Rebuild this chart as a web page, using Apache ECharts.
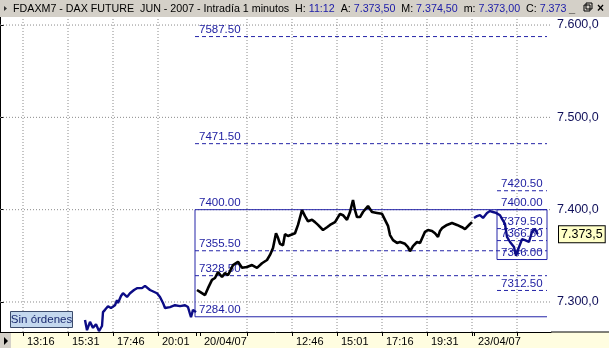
<!DOCTYPE html>
<html><head><meta charset="utf-8">
<script src="https://cdn.jsdelivr.net/npm/echarts@6/dist/echarts.min.js"></script>
<style>html,body{margin:0;padding:0;background:#fff}#c{width:609px;height:348px}</style>
</head><body><div id="c"></div>
<script>
// ---- sessions (bar index = minutes since first shown bar, sessions packed together)
const sessions = {
  d1: { date: '19/04/07', open: '12:07', startIndex: 0 },
  d2: { date: '20/04/07', open: '08:00', startIndex: 590 },
  d3: { date: '23/04/07', open: '08:00', startIndex: 1422 }
};
const xMaxIndex = 1653;

// ---- price data [time, price]
const day1 = [['16:22',7280.5],['16:28',7269.5],['16:37',7278.5],['16:46',7272],['16:55',7276],['17:04',7268.5],['17:13',7274],['17:16',7289],['17:22',7291.5],['17:31',7295.5],['17:40',7293.5],['17:52',7296.5],['17:58',7302],['18:01',7299],['18:10',7306.5],['18:16',7309.5],['18:28',7305.5],['18:37',7309.5],['18:49',7313],['18:58',7315],['19:13',7315],['19:22',7317.5],['19:28',7316],['19:37',7313],['19:43',7311],['19:58',7309.5],['20:07',7305.5],['20:16',7299],['20:22',7293.5],['20:28',7291.5],['20:37',7294.5],['20:52',7296.5],['21:07',7295.5],['21:22',7296.5],['21:31',7294.5],['21:37',7287],['21:40',7283.5],['21:46',7291.5],['21:55',7289]];
const day2 = [['08:01',7313],['08:10',7311],['08:25',7307.5],['08:34',7315],['08:46',7324],['08:55',7326],['09:04',7332.5],['09:16',7327],['09:25',7331.5],['09:34',7329],['09:49',7340],['10:04',7343.5],['10:16',7337],['10:31',7338],['10:46',7340],['11:01',7337],['11:16',7342],['11:31',7345.5],['11:40',7351],['11:49',7358.5],['11:58',7374.5],['12:04',7369.5],['12:10',7363],['12:19',7361.5],['12:25',7373.5],['12:34',7371.5],['12:40',7369.5],['12:55',7374.5],['13:04',7383.5],['13:16',7399.5],['13:25',7393],['13:34',7387.5],['13:46',7389],['13:55',7386.5],['14:04',7383.5],['14:19',7378],['14:31',7381],['14:40',7383.5],['14:55',7386.5],['15:10',7395.5],['15:19',7394],['15:31',7389],['15:40',7397.5],['15:49',7410.5],['15:55',7399.5],['16:01',7392],['16:10',7392],['16:19',7397.5],['16:34',7404],['16:46',7397.5],['17:01',7396.5],['17:16',7395.5],['17:25',7389],['17:34',7382.5],['17:40',7372.5],['17:49',7367],['18:01',7364],['18:10',7365],['18:25',7363],['18:34',7359.5],['18:40',7355],['18:49',7360.5],['19:01',7365],['19:10',7364],['19:25',7376],['19:34',7378],['19:46',7377],['19:55',7374.5],['20:04',7370.5],['20:10',7377],['20:16',7380],['20:31',7383.5],['20:46',7385.5],['21:01',7383.5],['21:16',7381],['21:25',7379],['21:31',7380],['21:40',7384.5],['21:46',7386.5]];
const day3 = [['08:00',7391],['08:09',7393],['08:18',7394],['08:27',7391],['08:39',7396.5],['08:48',7398.5],['08:57',7397.5],['09:06',7396.5],['09:12',7395.5],['09:18',7394],['09:24',7390],['09:33',7384.5],['09:39',7370.5],['09:48',7365],['10:00',7359.5],['10:06',7350],['10:15',7359.5],['10:24',7368],['10:33',7367],['10:45',7365],['10:54',7376],['11:03',7379],['11:09',7374.5],['11:12',7373.5]];

// ---- axes
const yTickValues = [7300, 7400, 7500, 7600];
const yMin = 7267.5, yMax = 7608.7;
const xTickMarks = [['d1','13:16','13:16'],['d1','15:31','15:31'],['d1','17:46','17:46'],['d1','20:01','20:01'],['d1','21:55',''],['d2','08:10','20/04/07'],['d2','10:31',''],['d2','12:46','12:46'],['d2','15:01','15:01'],['d2','17:16','17:16'],['d2','19:31','19:31'],['d2','21:46',''],['d3','08:00','23/04/07'],['d3','10:09','']];
const xGridMarks = [['d1','13:16'],['d1','15:31'],['d1','17:46'],['d1','20:01'],['d2','10:31'],['d2','12:46'],['d2','15:01'],['d2','17:16'],['d2','19:31'],['d2','21:46'],['d3','10:09']];

// ---- drawings (fibonacci tools)
const leftFib  = { start: ['d1','21:52'], end: ['d3','11:39'], high: 7400, low: 7284, levels: [7587.5, 7471.5, 7355.5, 7328.5] };
const rightFib = { start: ['d3','09:09'], end: ['d3','11:39'], high: 7400, low: 7346, levels: [7420.5, 7379.5, 7366.5, 7312.5, 7259] };
const lastPrice = 7373.5;

const header = { symbol: 'FDAXM7 - DAX FUTURE  JUN - 2007 - Intradía 1 minutos', H: '11:12', A: '7.373,50', M: '7.374,50', m: '7.373,00', C: '7.373,5' };

function toMin(t){ const [h,m]=t.split(':').map(Number); return h*60+m; }
function idx(day, t){ const s = sessions[day]; return s.startIndex + toMin(t) - toMin(s.open); }
function fmtEs(v, d){ const s = v.toFixed(d); const [i, f] = s.split('.'); return i.replace(/\B(?=(\d{3})+(?!\d))/g, '.') + (f ? ',' + f : ''); }

const tickIdx = xTickMarks.map(t => idx(t[0], t[1]));
const labelMap = {}; xTickMarks.forEach(t => { if (t[2]) labelMap[idx(t[0], t[1])] = t[2]; });
const labelIdx = Object.keys(labelMap).map(Number);

const LVL = '#2424a8';
const LVL_TEXT = '#1c1ca0';
const FONT = 'Liberation Sans';
const GRID = '#8a8a8a';

// straight segment drawn as a plain line series
function seg(p0, p1, style, z) {
  const c = style.color;
  return { type: 'line', data: [p0, p1], symbol: 'none', showSymbol: false, silent: true, animation: false,
    color: c, itemStyle: { color: c }, lineStyle: Object.assign({ width: 1 }, style), z: z || 3 };
}

const drawSeries = [];
const drawLabels = [];
function addFib(f, sideRight) {
  const s = idx(f.start[0], f.start[1]), e = idx(f.end[0], f.end[1]);
  const dash = { color: LVL, type: [4, 3] }, solid = { color: LVL, type: 'solid' };
  f.levels.forEach(v => { drawSeries.push(seg([s, v], [e, v], dash)); drawLabels.push([s, v]); });
  [f.high, f.low].forEach(v => { drawSeries.push(seg([s, v], [e, v], solid)); drawLabels.push([s, v]); });
  drawSeries.push(seg([s, f.high], [s, f.low], solid));
  if (sideRight) drawSeries.push(seg([e, f.high], [e, f.low], solid));
}
addFib(leftFib, false);
addFib(rightFib, true);

const gridSeries = xGridMarks.map(g => { const x = idx(g[0], g[1]); return seg([x, yMin], [x, yMax], { color: GRID, type: [1, 2] }, 1); })
  .concat(yTickValues.map(v => seg([0, v], [xMaxIndex, v], { color: GRID, type: [1, 2] }, 1)));

const dayLine = (data, day, color, width, extra) => Object.assign({
  type: 'line', data: data.map(d => [idx(day, d[0]), d[1]]), showSymbol: false, symbol: 'none', animation: false,
  color, lineStyle: { color, width }, itemStyle: { color }, z: 5, silent: true
}, extra || {});

const chart = echarts.init(document.getElementById('c'), null, { renderer: 'canvas' });
chart.setOption({
  animation: false,
  backgroundColor: '#ffffff',
  grid: { left: 0, right: 58, top: 17, bottom: 16, containLabel: false },
  xAxis: {
    type: 'value', min: 0, max: xMaxIndex,
    axisLine: { show: true, lineStyle: { color: '#000', width: 1 } },
    axisTick: { show: true, length: 4, lineStyle: { color: '#000' }, customValues: tickIdx },
    axisLabel: { customValues: labelIdx, formatter: v => labelMap[Math.round(v)] || '', align: 'left', padding: [0, 0, 0, 4], margin: 4, color: '#000', fontSize: 11, fontFamily: FONT },
    splitLine: { show: false }
  },
  yAxis: {
    type: 'value', position: 'right', min: yMin, max: yMax, scale: true,
    axisLine: { show: true, lineStyle: { color: '#000', width: 1 } },
    axisTick: { show: true, length: 4, inside: false, lineStyle: { color: '#000' }, customValues: yTickValues },
    axisLabel: { customValues: yTickValues, formatter: v => fmtEs(v, 1), margin: 6, color: '#10105a', fontSize: 12.5, fontFamily: FONT },
    splitLine: { show: false }
  },
  series: gridSeries.concat(drawSeries, [
    { type: 'scatter', data: drawLabels, symbolSize: 0, silent: true, animation: false, z: 4,
      itemStyle: { color: LVL_TEXT, opacity: 1 },
      emphasis: { disabled: true },
      label: { show: true, position: [4, -13], formatter: p => p.value[1].toFixed(2), color: LVL_TEXT, opacity: 1,
        textBorderWidth: 0, fontSize: 11.5, fontFamily: FONT } },
    dayLine(day1, 'd1', '#0c0c86', 2.4),
    dayLine(day2, 'd2', '#000000', 2.6),
    dayLine(day3, 'd3', '#0c0c86', 2.4, {
      markLine: { silent: true, symbol: ['none', 'none'], animation: false,
        lineStyle: { color: 'rgba(0,0,0,0)', width: 0 },
        label: { show: true, position: 'end', distance: 8, formatter: fmtEs(lastPrice, 1), color: '#000', fontSize: 12.5, fontFamily: FONT,
          backgroundColor: '#ffffc8', borderColor: '#000', borderWidth: 1, padding: [2, 2, 1, 2] },
        data: [{ yAxis: lastPrice }] }
    })
  ]),
  graphic: [
    { type: 'rect', z: -1, shape: { x: 0, y: 332, width: 609, height: 16 }, style: { fill: '#fffde0' } },
    { type: 'line', z: 1, shape: { x1: 551, y1: 332, x2: 609, y2: 332 }, style: { stroke: '#000', lineWidth: 1 } },
    { type: 'rect', z: 10, shape: { x: 0, y: 333, width: 11, height: 15 }, style: { fill: '#d4d0c8' } },
    { type: 'polygon', z: 11, shape: { points: [[4, 337], [4, 345], [8, 341]] }, style: { fill: '#000' } },
    { type: 'rect', z: 10, shape: { x: 0, y: 0, width: 609, height: 17 }, style: { fill: '#d4d0c8' } },
    { type: 'polygon', z: 11, shape: { points: [[4, 6], [4, 11], [7, 8.5]] }, style: { fill: '#333' } },
    { type: 'text', z: 11, x: 13, y: 9, style: {
      text: '{k|' + header.symbol + '  H: }{v|' + header.H + '}{k|  A: }{v|' + header.A + '}{k|  M: }{v|' + header.M + '}{k|  m: }{v|' + header.m + '}{k|  C: }{v|' + header.C + '}',
      verticalAlign: 'middle', font: '10.7px ' + FONT,
      rich: { k: { fill: '#000', fontSize: 10.7, fontFamily: FONT }, v: { fill: '#1a1aa8', fontSize: 10.7, fontFamily: FONT } } } },
    { type: 'rect', z: 12, shape: { x: 567, y: 1, width: 42, height: 15 }, style: { fill: '#d4d0c8' } },
    { type: 'text', z: 13, x: 569, y: 9, style: { text: '_', font: 'bold 11px ' + FONT, fill: '#000', verticalAlign: 'middle' } },
    { type: 'rect', z: 13, shape: { x: 584, y: 5, width: 6, height: 6 }, style: { fill: 'none', stroke: '#000', lineWidth: 1 } },
    { type: 'rect', z: 13, shape: { x: 586, y: 3, width: 6, height: 6 }, style: { fill: 'none', stroke: '#000', lineWidth: 1 } },
    { type: 'text', z: 13, x: 597, y: 9, style: { text: '×', font: 'bold 12px ' + FONT, fill: '#000', verticalAlign: 'middle' } },
    { type: 'rect', z: 10, shape: { x: 10.5, y: 311.5, width: 62, height: 16 }, style: { fill: '#c4d8ee', stroke: '#3c4c6c', lineWidth: 1 } },
    { type: 'text', z: 11, x: 41.5, y: 319.5, style: { text: 'Sin órdenes', font: '11.5px ' + FONT, fill: '#1a2a70', align: 'center', verticalAlign: 'middle' } }
  ]
});
</script></body></html>
